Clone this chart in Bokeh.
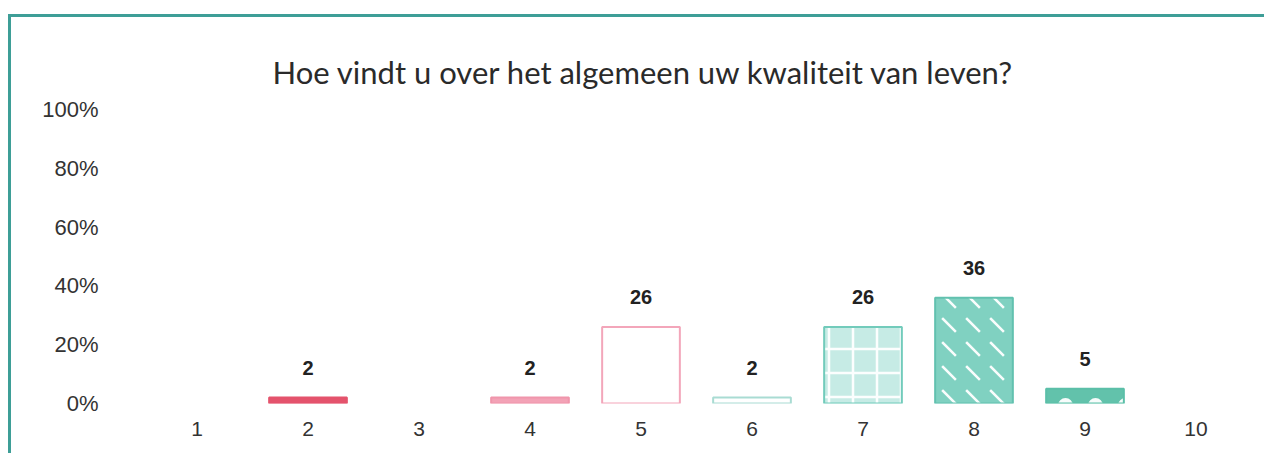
from bokeh.plotting import figure
from bokeh.models import ColumnDataSource, LabelSet, FixedTicker, CustomJSTickFormatter
from bokeh.embed import file_html
from bokeh.resources import INLINE
from bokeh.core.properties import value

categories = ["1", "2", "3", "4", "5", "6", "7", "8", "9", "10"]
percentages = [0, 2, 0, 2, 26, 2, 26, 36, 5, 0]
title_text = "Hoe vindt u over het algemeen uw kwaliteit van leven?"
y_ticks = [0, 20, 40, 60, 80, 100]

# styles per category (not data)
fill_colors = ["#ffffff", "#e4536c", "#ffffff", "#f3a2b6", "#ffffff", "#ffffff",
               "#c6ebe5", "#80d1c1", "#62c2ab", "#ffffff"]
line_colors = ["#ffffff", "#e4536c", "#ffffff", "#f095ab", "#f3a6ba", "#a9dcd3",
               "#72cbbb", "#62c1af", "#5bbfa8", "#ffffff"]
hatches = [" ", " ", " ", " ", " ", " ", "+", "`", ".", " "]
hatch_scales = [24, 24, 24, 24, 24, 24, 24, 24, 30, 24]
hatch_weights = [2.5, 2.5, 2.5, 2.5, 2.5, 2.5, 2.5, 2.5, 1.2, 2.5]

idx = [i for i, v in enumerate(percentages) if v > 0]
src = ColumnDataSource(dict(
    cat=[categories[i] for i in idx],
    top=[percentages[i] for i in idx],
    lbl=[str(percentages[i]) for i in idx],
    fill=[fill_colors[i] for i in idx],
    line=[line_colors[i] for i in idx],
    hatch=[hatches[i] for i in idx],
    hscale=[hatch_scales[i] for i in idx],
    hweight=[hatch_weights[i] for i in idx],
))

teal = "#3e9e97"
p = figure(x_range=categories, y_range=(0, 100), width=1264, height=453,
           output_backend="svg", toolbar_location=None,
           min_border_left=141, min_border_right=13, min_border_top=109, min_border_bottom=50)
p.styles = {
    "background": (f"linear-gradient({teal}, {teal}) 8px 14px / 100% 3px no-repeat, "
                   f"linear-gradient({teal}, {teal}) 8px 14px / 3px 100% no-repeat, #ffffff"),
}
p.border_fill_color = None
p.background_fill_color = None
p.outline_line_color = None
p.xgrid.grid_line_color = None
p.ygrid.grid_line_color = None

p.title.text = title_text
p.title.align = "left"
p.title.offset = 131
p.title.text_font = "Lato"
p.title.text_font_size = "31px"
p.title.text_font_style = "normal"
p.title.text_color = "#2a2a2a"
p.title.standoff = 38

p.vbar(x="cat", top="top", width=0.7, bottom=0, source=src,
       fill_color="fill", line_color="line", line_width=2,
       hatch_pattern="hatch", hatch_color="white", hatch_scale="hscale",
       hatch_weight="hweight", hatch_alpha=0.95)

labels = LabelSet(x="cat", y="top", text="lbl", source=src, y_offset=30,
                  text_align="center", text_baseline="middle",
                  text_font=value("Liberation Sans"), text_font_size="20px",
                  text_font_style="bold", text_color="#222222")
p.add_layout(labels)

p.yaxis.ticker = FixedTicker(ticks=y_ticks)
p.yaxis.formatter = CustomJSTickFormatter(code="return tick + '%';")
for ax in (p.xaxis[0], p.yaxis[0]):
    ax.axis_line_color = None
    ax.major_tick_line_color = None
    ax.minor_tick_line_color = None
    ax.major_label_text_font = "Liberation Sans"
    ax.major_label_text_font_size = "21px"
    ax.major_label_text_color = "#333333"
p.yaxis.major_label_text_font_size = "22px"
p.yaxis.major_label_standoff = 37
p.xaxis.major_label_standoff = 12

open("out.html", "w").write(file_html(p, INLINE))
